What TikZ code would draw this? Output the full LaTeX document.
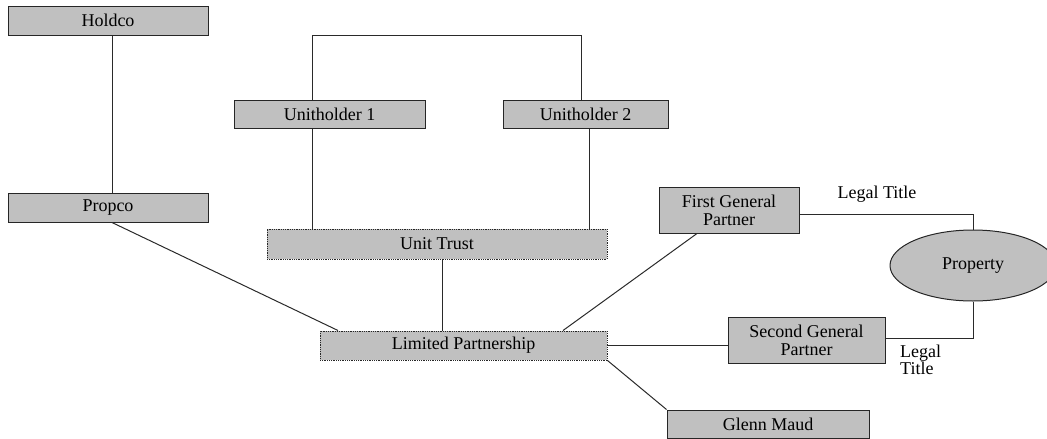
\documentclass[tikz,border=0pt]{standalone}
\usepackage{fontspec}
\setmainfont{Liberation Serif}
\usetikzlibrary{shapes.geometric}
\definecolor{boxgray}{HTML}{C0C0C0}
\definecolor{edgegray}{HTML}{2A2A2A}
\begin{document}
\begin{tikzpicture}[x=1pt,y=-1pt,
  entity/.style={draw=black!85, fill=boxgray, line width=1pt, inner sep=0pt,
                 align=center, font=\fontsize{18}{18}\selectfont},
  trustbox/.style={entity, dash pattern=on 1pt off 0.8pt},
  estate/.style={entity, ellipse},
  link/.style={draw=edgegray, line width=1pt},
  caption/.style={inner sep=0pt, align=left, font=\fontsize{18}{17}\selectfont}]
\useasboundingbox (0,0) rectangle (1047,439);

% companies and trusts
\node[entity, minimum width=200, minimum height=29] (holdco) at (108,20.5) {Holdco};
\node[entity, minimum width=200, minimum height=29] (propco) at (108,207.5) {Propco};
\node[entity, minimum width=191, minimum height=28] (uh1) at (329.5,114) {Unitholder 1};
\node[entity, minimum width=165, minimum height=28] (uh2) at (585.5,114) {Unitholder 2};
\node[trustbox, minimum width=340, minimum height=30] (ut) at (437,244) {Unit Trust};
\node[trustbox, minimum width=287, minimum height=29] (lp) at (463.5,345.5) {Limited Partnership};
\node[entity, minimum width=140, minimum height=46] (fgp) at (729,210) {First General\\Partner};
\node[entity, minimum width=157, minimum height=46] (sgp) at (806.5,340) {Second General\\Partner};
\node[entity, minimum width=202, minimum height=28] (glenn) at (768,424) {Glenn Maud};
\node[estate, minimum width=166, minimum height=71] (prop) at (973,265.5) {Property};

% title labels
\node[caption] (lt1) at (877,194) {Legal Title};
\node[caption, anchor=west] (lt2) at (900,360) {Legal\\Title};

% ownership links
\coordinate (bracket) at (0,35);
\draw[link] ([xshift=4]holdco.south) -- ([xshift=4]propco.north);
\draw[link] ([xshift=-17.5]uh1.north) -- ([xshift=-17.5]uh1.north |- bracket)
            -| ([xshift=-4.5]uh2.north);
\draw[link] ([xshift=-17.5]uh1.south) -- ([xshift=-17.5]uh1.south |- ut.north);
\draw[link] ([xshift=3.5]uh2.south) -- ([xshift=3.5]uh2.south |- ut.north);
\draw[link] ([xshift=5]ut.south) -- ([xshift=5]ut.south |- lp.north);
\draw[link] ([xshift=4]propco.south) -- ([xshift=-125.5]lp.north);
\draw[link] ([xshift=-32]fgp.south) -- ([xshift=99.5]lp.north);
\draw[link] (lp.east) -- (lp.east -| sgp.west);
\draw[link] (lp.south east) -- (glenn.north west);
\draw[link] ([yshift=-4]fgp.east) -| (prop.north);
\draw[link] ([yshift=2]sgp.east) -| (prop.south);
\end{tikzpicture}
\end{document}
